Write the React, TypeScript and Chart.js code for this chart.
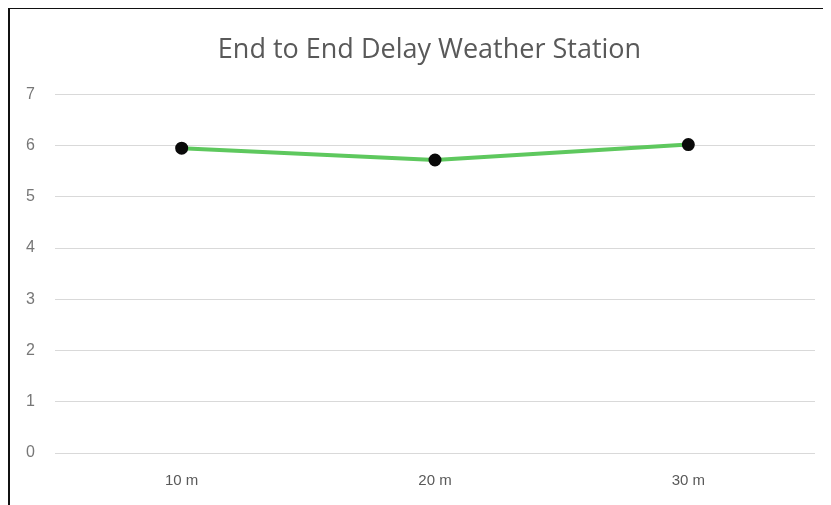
import React, { useEffect, useRef } from "react";
import { Chart, registerables } from "chart.js";

Chart.register(...registerables);

const categories = ["10 m", "20 m", "30 m"];
const delayValues = [5.95, 5.72, 6.02];
const yTicks = [0, 1, 2, 3, 4, 5, 6, 7];
const titleText = "End to End Delay Weather Station";

const titleShift = {
  id: "titleShift",
  afterLayout(chart: any) {
    const tb = chart.titleBlock;
    if (tb) {
      tb.left += 12;
      tb.right += 12;
    }
  },
};

export default function App() {
  const ref = useRef<HTMLCanvasElement | null>(null);

  useEffect(() => {
    if (!ref.current) return;
    const chart = new Chart(ref.current, {
      type: "line",
      data: {
        labels: categories,
        datasets: [
          {
            label: "Delay",
            data: delayValues,
            borderColor: "#5ec85e",
            borderWidth: 4,
            pointBackgroundColor: "#0a0a0a",
            pointBorderColor: "#0a0a0a",
            pointRadius: 4.5,
            tension: 0,
          },
        ],
      },
      plugins: [titleShift],
      options: {
        responsive: false,
        animation: false,
        layout: { padding: { left: 10, right: 16, top: 0, bottom: 0 } },
        plugins: {
          legend: { display: false },
          tooltip: { enabled: false },
          title: {
            display: true,
            text: titleText,
            color: "#595959",
            font: { family: "'Open Sans', sans-serif", size: 27, weight: "normal" },
            padding: { top: 25, bottom: 28 },
          },
        },
        scales: {
          x: {
            offset: true,
            grid: { display: false },
            border: { display: false },
            afterFit: (axis: any) => {
              axis.height = 52;
            },
            ticks: {
              color: "#595959",
              padding: 11,
              font: { family: "'Liberation Sans', sans-serif", size: 15 },
            },
          },
          y: {
            min: 0,
            max: 7,
            afterBuildTicks: (axis: any) => {
              axis.ticks = yTicks.map((v) => ({ value: v }));
            },
            afterFit: (axis: any) => {
              axis.width = 35;
            },
            grid: { color: "#d9d9d9", lineWidth: 1, drawTicks: false },
            border: { display: false },
            ticks: {
              color: "#777777",
              padding: 20,
              font: { family: "'Liberation Sans', sans-serif", size: 16 },
            },
          },
        },
      },
    });
    return () => chart.destroy();
  }, []);

  return (
    <div
      style={{
        marginTop: -1,
        width: 821,
        height: 496,
        borderTop: "2px solid #111",
        borderLeft: "2px solid #111",
        overflow: "hidden",
        background: "#fff",
      }}
    >
      <canvas ref={ref} width={821} height={496} style={{ display: "block" }} />
    </div>
  );
}
